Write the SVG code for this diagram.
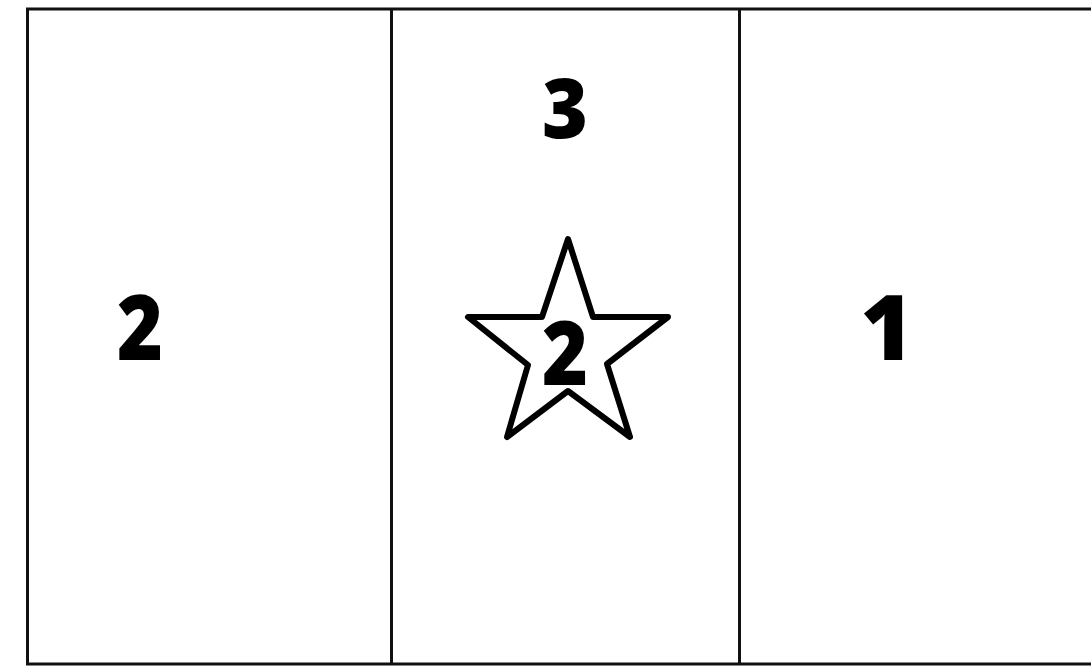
<svg xmlns="http://www.w3.org/2000/svg" width="1091" height="667" viewBox="0 0 1091 667">
<style>
.ln{stroke:#111;stroke-width:3;fill:none}
.num{font-family:"Open Sans",Inter,"Liberation Sans",sans-serif;font-weight:800;fill:#000;text-anchor:middle}
</style>
<rect width="1091" height="667" fill="#fff"/>
<g id="frame">
<rect class="ln" x="27.5" y="9" width="1070" height="655"/>
<line class="ln" x1="391.5" y1="9" x2="391.5" y2="664"/>
<line class="ln" x1="739.5" y1="9" x2="739.5" y2="664"/>
</g>
<g id="left"><text class="num" x="140" y="360" font-size="91" textLength="46" lengthAdjust="spacingAndGlyphs">2</text></g>
<g id="middle">
<text class="num" x="565" y="138" font-size="84" textLength="46" lengthAdjust="spacingAndGlyphs">3</text>
<polygon points="568,239 593,317 668,317 607,364 630,437 568,391 507,437 528,365 468,317 542,317" fill="none" stroke="#000" stroke-width="6" stroke-linejoin="round"/>
<text class="num" x="565" y="385" font-size="88" textLength="46" lengthAdjust="spacingAndGlyphs">2</text>
</g>
<g id="right"><text class="num" x="887" y="360" font-size="91">1</text></g>
</svg>
